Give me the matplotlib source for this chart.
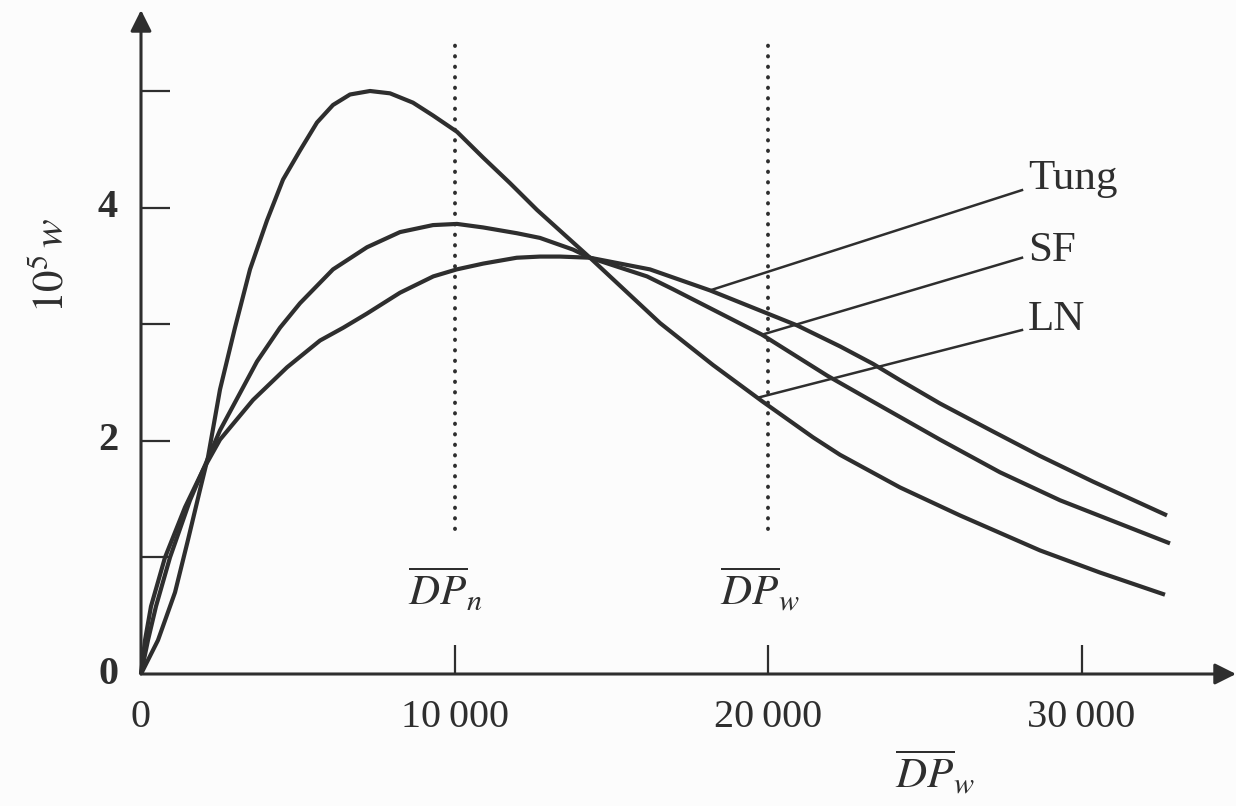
import matplotlib
matplotlib.use("Agg")
import matplotlib.pyplot as plt
from matplotlib.transforms import blended_transform_factory

# values (x = degree of polymerisation, y = 10^5 w)
tung_x = [0, 128, 319, 766, 1404, 1978, 2520, 3573, 4657, 5710, 6453, 7200, 8262,
          9324, 10070, 10919, 11984, 12727, 13365, 14322, 16236, 18150, 20925,
          22297, 23349, 24211, 25486, 27177, 28676, 30367, 32727]
tung_y = [0, 0.29, 0.58, 1.00, 1.43, 1.75, 2.01, 2.35, 2.63, 2.86, 2.97, 3.09, 3.27,
          3.41, 3.47, 3.52, 3.57, 3.58, 3.58, 3.57, 3.47, 3.29, 2.99,
          2.81, 2.66, 2.52, 2.32, 2.08, 1.87, 1.65, 1.36]

sf_x = [0, 223, 478, 925, 1563, 2520, 3700, 4434, 5072, 6124, 7209, 8262, 9314,
        10080, 10909, 11994, 12727, 13780, 14322, 16140, 16970, 19809, 21882,
        23254, 25486, 27400, 29314, 32823]
sf_y = [0, 0.29, 0.58, 1.00, 1.49, 2.09, 2.68, 2.97, 3.18, 3.47, 3.66, 3.79, 3.85,
        3.86, 3.83, 3.78, 3.74, 3.64, 3.57, 3.41, 3.30, 2.91, 2.56,
        2.35, 2.01, 1.73, 1.49, 1.12]

ln_x = [0, 542, 1085, 1499, 1882, 2137, 2520, 2998, 3477, 4019, 4530, 5072, 5614,
        6124, 6667, 7305, 7943, 8676, 9314, 10080, 10909, 11770, 12632, 14322,
        16555, 18246, 19809, 21435, 22297, 24211, 26124, 28676, 30590, 32663]
ln_y = [0, 0.29, 0.70, 1.15, 1.58, 1.86, 2.44, 2.97, 3.47, 3.89, 4.24, 4.49, 4.73,
        4.88, 4.97, 5.00, 4.98, 4.90, 4.79, 4.65, 4.43, 4.21, 3.98, 3.57,
        3.01, 2.65, 2.34, 2.03, 1.88, 1.60, 1.36, 1.06, 0.87, 0.68]

dp_n = 10000
dp_w = 20000
x_ticks = [10000, 20000, 30000]
x_tick_labels = ["10\u2009000", "20\u2009000", "30\u2009000"]
y_ticks = [1, 2, 3, 4, 5]
y_tick_labels = ["", "2", "", "4", ""]

ink = "#2e2e2e"
plt.rcParams["mathtext.fontset"] = "stix"

W, H = 1236, 806
fig = plt.figure(figsize=(W / 100, H / 100), dpi=100, facecolor="#fcfcfc")
x0, y0 = 141, 674          # pixel position of the origin
px_per_x = 0.03135
px_per_y = 116.6
ax = fig.add_axes([x0 / W, (H - y0) / H, (W - x0) / W, (y0 - 10) / H])
ax.set_facecolor("none")
ax.set_xlim(0, (W - x0) / px_per_x)
ax.set_ylim(0, (y0 - 10) / px_per_y)
for s in ax.spines.values():
    s.set_visible(False)

# axes with arrow heads
arrow = dict(arrowstyle="-|>", lw=2.2, color=ink, mutation_scale=32, shrinkA=0, shrinkB=0)
ax.annotate("", xy=(1, 0), xytext=(0, 0), xycoords="axes fraction", arrowprops=arrow)
ax.annotate("", xy=(0, 1), xytext=(0, 0), xycoords="axes fraction", arrowprops=arrow)

# curves
for xs, ys in [(tung_x, tung_y), (sf_x, sf_y), (ln_x, ln_y)]:
    ax.plot(xs, ys, color=ink, lw=3.0, solid_joinstyle="round", solid_capstyle="butt",
            clip_on=False)

# dotted markers for the averages
for xv in [dp_n, dp_w]:
    ax.plot([xv, xv], [1.24, 5.44], color=ink, lw=2.8, linestyle=(0, (0.1, 2.6)),
            dash_capstyle="round")

# ticks
ax.set_xticks(x_ticks)
ax.set_yticks(y_ticks)
ax.tick_params(axis="both", direction="in", length=21, width=1.6, color=ink,
               labelbottom=False, labelleft=False)

serif = "Liberation Serif"
bx = blended_transform_factory(ax.transData, ax.transAxes)
by = blended_transform_factory(ax.transAxes, ax.transData)
for xv, lab in zip([0] + x_ticks, ["0"] + x_tick_labels):
    ax.text(xv, -0.066, lab, transform=bx, ha="center", va="center", fontsize=29,
            family=serif, color=ink)
for yv, lab in zip([0] + y_ticks, ["0"] + y_tick_labels):
    if lab:
        ax.text(-0.021, yv, lab, transform=by, ha="right", va="center", fontsize=29,
                family=serif, fontweight="bold", color=ink)

# labels for the averages
ax.text(dp_n - 300, 0.72, r"$\overline{DP}_n$", ha="center", va="center",
        fontsize=31, color=ink)
ax.text(dp_w - 250, 0.72, r"$\overline{DP}_w$", ha="center", va="center",
        fontsize=31, color=ink)
fig.text(935 / W, 1 - 773 / H, r"$\overline{DP}_w$", ha="center", va="center",
         fontsize=31, color=ink)
fig.text(52 / W, 1 - 265 / H, r"$10^5\,w$", rotation=90, ha="center", va="center",
         fontsize=31, color=ink)

# curve names with pointer lines
names = ["Tung", "SF", "LN"]
starts = [(18150, 3.29), (19809, 2.91), (19681, 2.37)]
ends = [(28102, 4.15), (28102, 3.57), (28102, 2.95)]
label_y = [4.25, 3.63, 3.04]
for name, (sx, sy), (ex, ey), ly in zip(names, starts, ends, label_y):
    ax.plot([sx, ex], [sy, ey], color=ink, lw=1.8)
    ax.text(28300, ly, name, ha="left", va="center", fontsize=31, family=serif,
            color=ink)

fig.savefig("out.png", dpi=100, facecolor=fig.get_facecolor())
